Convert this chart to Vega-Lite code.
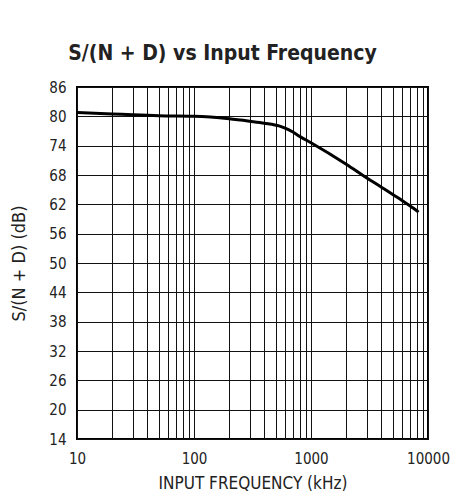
{
  "$schema": "https://vega.github.io/schema/vega-lite/v6.json",
  "width": 351,
  "height": 352,
  "autosize": {"type": "none"},
  "padding": {"left": 77, "top": 87, "right": 22, "bottom": 56},
  "background": "white",
  "title": {
    "text": "S/(N + D) vs Input Frequency",
    "font": "DejaVu Sans Condensed, sans-serif",
    "fontSize": 21,
    "fontWeight": "bold",
    "color": "#222",
    "baseline": "alphabetic",
    "offset": -1,
    "dx": -30
  },
  "config": {
    "view": {"stroke": "#000", "strokeWidth": 2},
    "axis": {
      "labelFont": "DejaVu Sans Condensed, sans-serif",
      "titleFont": "DejaVu Sans Condensed, sans-serif",
      "labelColor": "#222",
      "titleColor": "#222",
      "labelFontSize": 15,
      "titleFontSize": 16,
      "titleFontWeight": "normal",
      "gridColor": "#111",
      "gridWidth": 1,
      "gridOpacity": 1,
      "domain": false,
      "ticks": false
    }
  },
  "data": {
    "values": [
      {"f": 10, "snd": 80.8},
      {"f": 20, "snd": 80.5},
      {"f": 30, "snd": 80.3},
      {"f": 50, "snd": 80.1},
      {"f": 100, "snd": 80.0},
      {"f": 200, "snd": 79.5},
      {"f": 300, "snd": 79.0},
      {"f": 400, "snd": 78.6},
      {"f": 540, "snd": 78.0},
      {"f": 600, "snd": 77.6},
      {"f": 700, "snd": 76.8},
      {"f": 800, "snd": 75.9},
      {"f": 1000, "snd": 74.6},
      {"f": 2000, "snd": 70.2},
      {"f": 3000, "snd": 67.4},
      {"f": 4000, "snd": 65.5},
      {"f": 5000, "snd": 64.0},
      {"f": 6000, "snd": 62.8},
      {"f": 7000, "snd": 61.7},
      {"f": 8300, "snd": 60.4}
    ]
  },
  "mark": {"type": "line", "color": "#000", "strokeWidth": 3, "interpolate": "monotone"},
  "encoding": {
    "x": {
      "field": "f",
      "type": "quantitative",
      "scale": {"type": "log", "domain": [10, 10000], "nice": false},
      "axis": {
        "title": "INPUT FREQUENCY (kHz)",
        "titleFontSize": 17,
        "values": [10,20,30,40,50,60,70,80,90,100,200,300,400,500,600,700,800,900,1000,2000,3000,4000,5000,6000,7000,8000,9000,10000],
        "format": "d",
        "labelExpr": "indexof(['10','100','1000','10000'], datum.label) >= 0 ? datum.label : ''",
        "labelPadding": 12,
        "titlePadding": 9,
        "labelFlush": false,
        "labelOverlap": false
      }
    },
    "y": {
      "field": "snd",
      "type": "quantitative",
      "scale": {"domain": [14, 86], "nice": false, "zero": false},
      "axis": {
        "title": "S/(N + D) (dB)",
        "titleFontSize": 18,
        "values": [14,20,26,32,38,44,50,56,62,68,74,80,86],
        "labelPadding": 11,
        "titlePadding": 20,
        "labelFlush": false,
        "labelOverlap": false
      }
    }
  }
}
